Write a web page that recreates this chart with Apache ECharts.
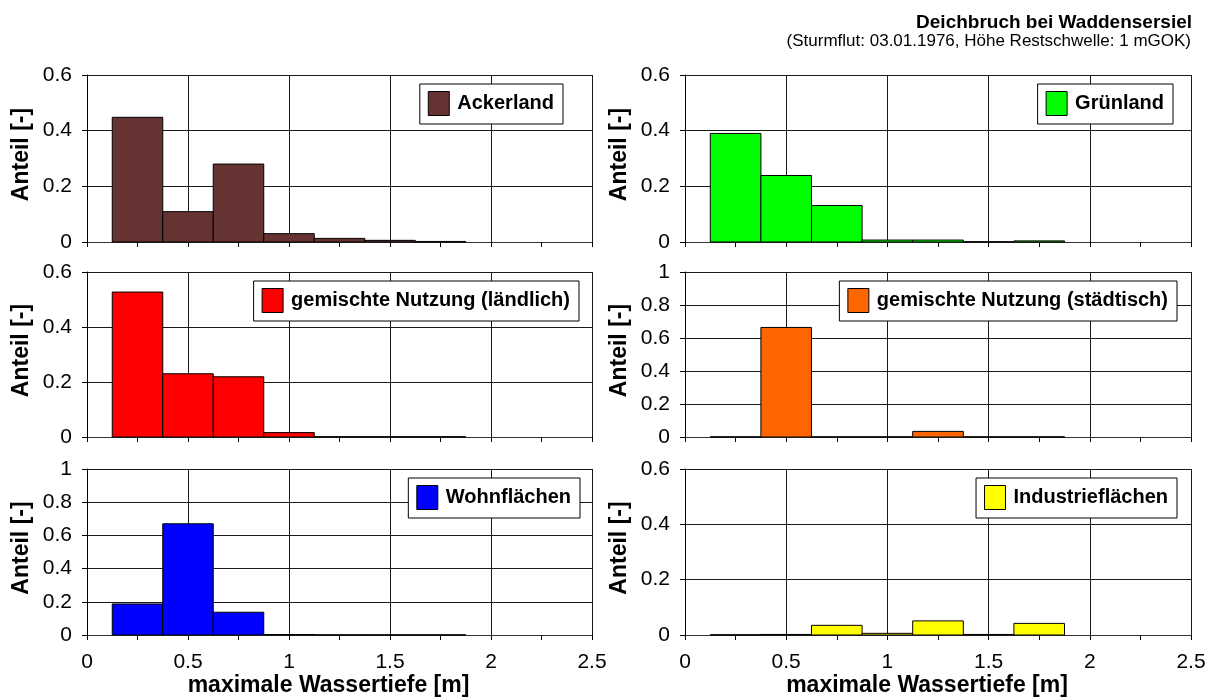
<!DOCTYPE html>
<html>
<head>
<meta charset="utf-8">
<script src="https://cdn.jsdelivr.net/npm/echarts@6/dist/echarts.min.js"></script>
<style>
html,body{margin:0;padding:0;background:#fff;}
#c{width:1214px;height:699px;}
</style>
</head>
<body>
<div id="c"></div>
<script>
// ---- data ----
const binCenters = [0.25, 0.5, 0.75, 1.0, 1.25, 1.5, 1.75];
const binWidth = 0.25;
const ackerland  = [0.448, 0.109, 0.280, 0.030, 0.013, 0.006, 0.002];
const gruenland  = [0.390, 0.239, 0.131, 0.007, 0.007, 0.001, 0.004];
const laendlich  = [0.527, 0.230, 0.219, 0.016, 0.001, 0.001, 0.001];
const staedtisch = [0.001, 0.664, 0.001, 0.001, 0.034, 0.001, 0.001];
const wohnen     = [0.187, 0.670, 0.137, 0.003, 0.001, 0.001, 0.001];
const industrie  = [0.001, 0.002, 0.035, 0.006, 0.051, 0.002, 0.042];
const xTicks = [0, 0.5, 1, 1.5, 2, 2.5];
const titleText = 'Deichbruch bei Waddensersiel';
const subtitleText = '(Sturmflut: 03.01.1976, Höhe Restschwelle: 1 mGOK)';
const xTitle = 'maximale Wassertiefe [m]';
const yTitle = 'Anteil [-]';

const panels = [
  {name: 'Ackerland', data: ackerland, color: '#663333', ymax: 0.6},
  {name: 'Grünland', data: gruenland, color: '#00ff00', ymax: 0.6},
  {name: 'gemischte Nutzung (ländlich)', data: laendlich, color: '#ff0000', ymax: 0.6},
  {name: 'gemischte Nutzung (städtisch)', data: staedtisch, color: '#ff6600', ymax: 1},
  {name: 'Wohnflächen', data: wohnen, color: '#0000ff', ymax: 1},
  {name: 'Industrieflächen', data: industrie, color: '#ffff00', ymax: 0.6}
];

// ---- layout ----
const FONT = '"Liberation Sans", Arial, sans-serif';
const colLeft = [87, 685];
const colWidth = [505, 506];
const rowTop = [75, 272, 469];
const rowHeight = [167, 165, 166];
const legendPos = [
  {right: 651, top: 84}, {right: 41, top: 84},
  {right: 635, top: 281}, {right: 37, top: 281},
  {right: 634, top: 478}, {right: 37, top: 478}
];

const grids = [], xAxes = [], yAxes = [], series = [], legends = [];
panels.forEach((p, i) => {
  const col = i % 2, row = Math.floor(i / 2);
  const bottomRow = row === 2;
  grids.push({left: colLeft[col], top: rowTop[row], width: colWidth[col], height: rowHeight[row], containLabel: false});
  xAxes.push({
    type: 'value', gridIndex: i, min: 0, max: 2.5, interval: 0.5,
    name: bottomRow ? xTitle : '', nameLocation: 'middle', nameGap: 32,
    nameTextStyle: {fontFamily: FONT, fontSize: 23, fontWeight: 'bold', color: '#000', padding: [0, 22, 0, 0]},
    axisLine: {show: true, onZero: false, lineStyle: {color: '#333', width: 1}},
    axisTick: {show: true, inside: false, length: 5, lineStyle: {color: '#000'}},
    minorTick: {show: true, splitNumber: 2, length: 5, lineStyle: {color: '#000'}},
    axisLabel: {show: bottomRow, margin: 17, fontFamily: FONT, fontSize: 21, color: '#000',
      formatter: v => String(v)},
    splitLine: {show: true, lineStyle: {color: '#1a1a1a', width: 1}}
  });
  yAxes.push({
    type: 'value', gridIndex: i, min: 0, max: p.ymax, interval: 0.2,
    name: yTitle, nameLocation: 'middle', nameGap: 54, nameRotate: 90,
    nameTextStyle: {fontFamily: FONT, fontSize: 23, fontWeight: 'bold', color: '#000', padding: [0, 0, 0, 8]},
    axisLine: {show: true, lineStyle: {color: '#000', width: 1}},
    axisTick: {show: true, inside: false, length: 5, lineStyle: {color: '#000'}},
    axisLabel: {margin: 15, fontFamily: FONT, fontSize: 21, color: '#000',
      formatter: v => String(Math.round(v * 10) / 10)},
    splitLine: {show: true, lineStyle: {color: '#1a1a1a', width: 1}}
  });
  series.push({
    type: 'custom', name: p.name, xAxisIndex: i, yAxisIndex: i, clip: false,
    itemStyle: {color: p.color, borderColor: '#000', borderWidth: 1},
    data: binCenters.map((x, k) => [x, p.data[k]]),
    renderItem: (params, api) => {
      const x = api.value(0), y = api.value(1);
      const p0 = api.coord([x - binWidth / 2, y]);
      const p1 = api.coord([x + binWidth / 2, 0]);
      return {
        type: 'rect',
        shape: {x: p0[0], y: p0[1], width: p1[0] - p0[0], height: p1[1] - p0[1]},
        style: {fill: p.color, stroke: '#000', lineWidth: 1}
      };
    },
    z: 3
  });
  legends.push({
    data: [{name: p.name, icon: 'rect', itemStyle: {color: p.color, borderColor: '#000', borderWidth: 1}}],
    right: legendPos[i].right, top: legendPos[i].top,
    orient: 'horizontal', selectedMode: false,
    backgroundColor: '#fff', borderColor: '#000', borderWidth: 1,
    padding: [7, 9, 8, 8], itemWidth: 21, itemHeight: 24,
    textStyle: {fontFamily: FONT, fontSize: 20, fontWeight: 'bold', color: '#000', padding: [0, 0, 0, 3]},
    z: 10
  });
});

const chart = echarts.init(document.getElementById('c'), null, {renderer: 'canvas'});
chart.setOption({
  animation: false,
  backgroundColor: '#fff',
  title: [
    {text: titleText, right: 22, top: 13, padding: 0, textStyle: {fontFamily: FONT, fontSize: 19, fontWeight: 'bold', color: '#000'}},
    {text: subtitleText, right: 23, top: 33, padding: 0, textStyle: {fontFamily: FONT, fontSize: 17, fontWeight: 'normal', color: '#000'}}
  ],
  grid: grids,
  xAxis: xAxes,
  yAxis: yAxes,
  legend: legends,
  series: series
});
</script>
</body>
</html>
